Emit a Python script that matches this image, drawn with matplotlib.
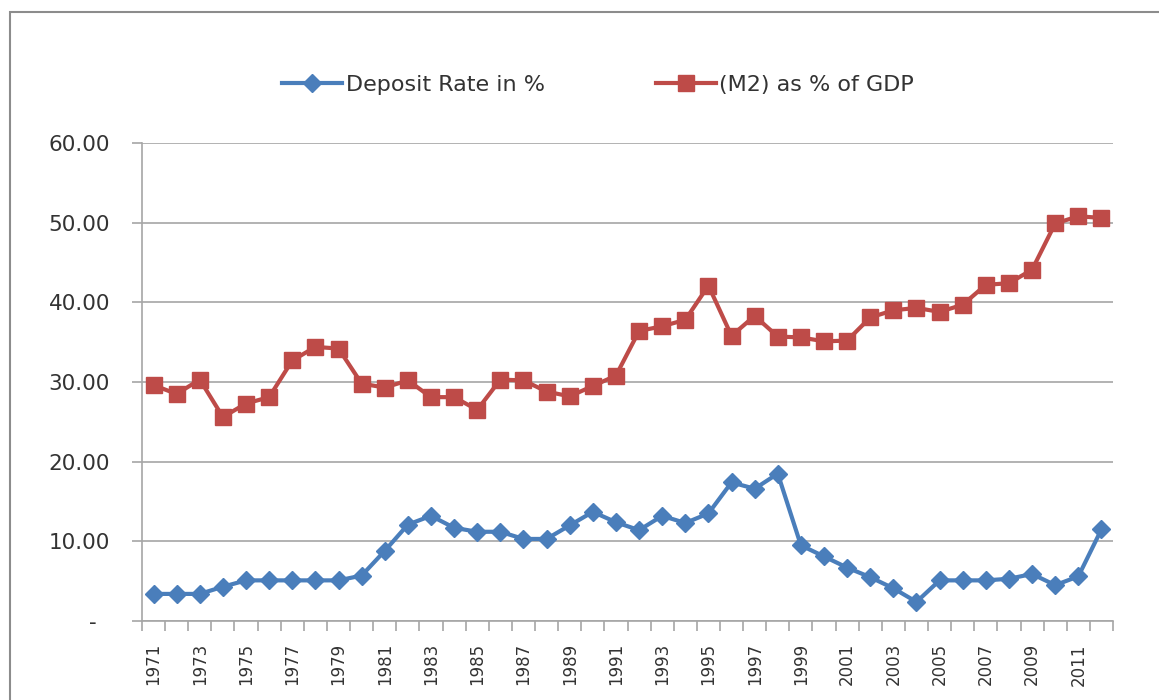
import numpy as np
import matplotlib.pyplot as plt
from matplotlib.patches import Rectangle

# data
years = list(range(1971, 2013))

deposit_rate = [3.4, 3.4, 3.4, 4.3, 5.1, 5.1, 5.1, 5.1, 5.1, 5.7,
                8.8, 12.1, 13.2, 11.7, 11.2, 11.2, 10.3, 10.3, 12.0, 13.7,
                12.4, 11.4, 13.2, 12.3, 13.5, 17.4, 16.6, 18.5, 9.5, 8.1,
                6.7, 5.5, 4.1, 2.4, 5.1, 5.1, 5.1, 5.3, 5.9, 4.5,
                5.6, 11.5]

m2_gdp = [29.6, 28.5, 30.3, 25.6, 27.3, 28.1, 32.7, 34.4, 34.2, 29.8,
          29.3, 30.2, 28.1, 28.1, 26.5, 30.3, 30.2, 28.8, 28.2, 29.5,
          30.8, 36.4, 37.0, 37.8, 42.1, 35.8, 38.3, 35.7, 35.6, 35.1,
          35.2, 38.1, 39.0, 39.3, 38.8, 39.7, 42.2, 42.4, 44.1, 49.9,
          50.8, 50.6]

y_ticks = [0, 10, 20, 30, 40, 50, 60]
y_labels = ["-  ", "10.00", "20.00", "30.00", "40.00", "50.00", "60.00"]

blue = "#4A7EBB"
red = "#BE4B48"
grid_col = "#A6A6A6"
text_col = "#333333"

fig = plt.figure(figsize=(11.59, 7.0), dpi=100)
ax = fig.add_axes([142 / 1159, 1 - 621 / 700, (1113 - 142) / 1159, (621 - 143) / 700])

# chart frame (gray border, cropped at right/bottom)
fig.patches.append(Rectangle((10 / 1159, -0.1), 1.2, 1 - 12 / 700 + 0.1,
                             transform=fig.transFigure, fill=False,
                             edgecolor="#8C8C8C", linewidth=1.5))

ax.plot(years, deposit_rate, color=blue, lw=3, marker="D", markersize=9,
        label="Deposit Rate in %")
ax.plot(years, m2_gdp, color=red, lw=3, marker="s", markersize=11.5,
        label="(M2) as % of GDP")

ax.set_xlim(1970.5, 2012.5)
ax.set_ylim(0, 60)

ax.set_yticks(y_ticks)
ax.set_yticklabels(y_labels, fontsize=15.5, color=text_col)
ax.tick_params(axis="y", length=7, color=grid_col, width=1.2, pad=16)

ax.set_xticks(years)
ax.set_xticklabels([str(y) if (y - 1971) % 2 == 0 else "" for y in years],
                   rotation=90, fontsize=12, color=text_col)
ax.tick_params(axis="x", which="major", length=0, pad=16)
ax.set_xticks(np.arange(1970.5, 2013, 1), minor=True)
ax.tick_params(axis="x", which="minor", length=7, color=grid_col, width=1.2)

ax.grid(axis="y", color=grid_col, lw=1.2)
ax.set_axisbelow(True)
for side in ["top", "right"]:
    ax.spines[side].set_visible(False)
for side in ["left", "bottom"]:
    ax.spines[side].set_color(grid_col)
    ax.spines[side].set_linewidth(1.2)

fig.legend(loc="center", bbox_to_anchor=(598 / 1159, 1 - 85 / 700), ncol=2,
           frameon=False, fontsize=16, handlelength=2.7, columnspacing=5.0,
           handletextpad=0.15, labelcolor=text_col)

fig.savefig("out.png", dpi=100)
